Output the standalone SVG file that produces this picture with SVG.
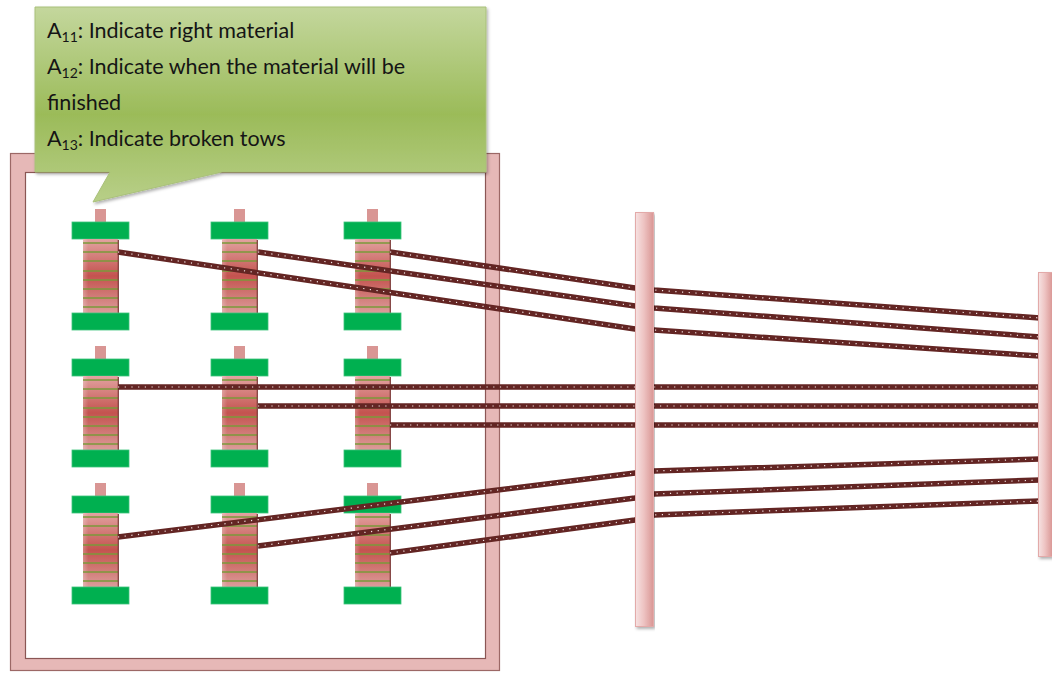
<svg xmlns="http://www.w3.org/2000/svg" xmlns:xlink="http://www.w3.org/1999/xlink" width="1052" height="673" viewBox="0 0 1052 673">
  <style>
    .frame-outer { fill: #e6b8b7; stroke: #9c6866; stroke-width: 1.2; }
    .frame-inner { fill: #ffffff; stroke: #8a5654; stroke-width: 1.2; }
    .cap { fill: #00b050; stroke: #3cc47a; stroke-width: 0.8; }
    .knob { fill: #d99694; }
    .wind { stroke: #7a9a3a; stroke-width: 1.3; }
    .tow { fill: none; stroke: #632523; stroke-width: 5.5; stroke-linejoin: round; }
    .tow-dots { fill: none; stroke: #f3e4e4; stroke-width: 1.2; stroke-dasharray: 1.2 5.5; }
    .bar { fill: url(#barGrad); stroke: #e3aaa9; stroke-width: 1; }
    .label { font-family: Lato, "Liberation Sans", sans-serif; font-size: 21.5px; fill: #151515; }
    .sub { font-size: 14px; }
  </style>
  <defs>
    <linearGradient id="bodyGrad" x1="0" y1="0" x2="0" y2="1">
      <stop offset="0" stop-color="#e2a3a1"/>
      <stop offset="0.5" stop-color="#c4534f"/>
      <stop offset="1" stop-color="#dc9c9a"/>
    </linearGradient>
    <linearGradient id="bodyShine" x1="0" y1="0" x2="1" y2="0">
      <stop offset="0" stop-color="#ffffff" stop-opacity="0.25"/>
      <stop offset="0.15" stop-color="#ffffff" stop-opacity="0"/>
      <stop offset="1" stop-color="#ffffff" stop-opacity="0"/>
    </linearGradient>
    <linearGradient id="barGrad" x1="0" y1="0" x2="1" y2="0">
      <stop offset="0" stop-color="#f6e2e2"/>
      <stop offset="0.45" stop-color="#eec4c3"/>
      <stop offset="1" stop-color="#d99694"/>
    </linearGradient>
    <linearGradient id="calloutGrad" x1="0" y1="0" x2="0" y2="1">
      <stop offset="0" stop-color="#c4d79d"/>
      <stop offset="0.55" stop-color="#9bbb59"/>
      <stop offset="1" stop-color="#b8cf88"/>
    </linearGradient>
    <filter id="softShadow" x="-5%" y="-5%" width="110%" height="115%">
      <feDropShadow dx="1.5" dy="2" stdDeviation="1.5" flood-color="#000" flood-opacity="0.3"/>
    </filter>
    <!-- one bobbin: knob, top flange, wound body, bottom flange -->
    <g id="spool">
      <rect class="knob" x="23" y="0" width="11" height="13"/>
      <rect class="cap" x="0" y="13" width="57" height="17"/>
      <rect x="11" y="30" width="35" height="74" fill="url(#bodyGrad)"/>
      <rect x="11" y="30" width="35" height="74" fill="url(#bodyShine)"/>
      <g class="wind">
        <line x1="11" y1="34" x2="46" y2="34"/>
        <line x1="11" y1="43" x2="46" y2="43"/>
        <line x1="11" y1="52" x2="46" y2="52"/>
        <line x1="11" y1="62" x2="46" y2="62"/>
        <line x1="11" y1="71" x2="46" y2="71"/>
        <line x1="11" y1="80" x2="46" y2="80"/>
        <line x1="11" y1="89" x2="46" y2="89"/>
        <line x1="11" y1="98" x2="46" y2="98"/>
      </g>
      <line x1="46.3" y1="31" x2="46.3" y2="104" stroke="#7a3533" stroke-width="1.2"/>
      <rect class="cap" x="0" y="104" width="57" height="17"/>
    </g>
  </defs>

  <!-- creel frame -->
  <g id="creel">
    <rect class="frame-outer" x="10.5" y="153.5" width="489" height="517"/>
    <rect class="frame-inner" x="25.5" y="172.5" width="460" height="486"/>
  </g>

  <!-- bobbins, 3 x 3 -->
  <g id="spool-r1c1"><use xlink:href="#spool" x="72" y="209"/></g>
  <g id="spool-r1c2"><use xlink:href="#spool" x="211" y="209"/></g>
  <g id="spool-r1c3"><use xlink:href="#spool" x="344" y="209"/></g>
  <g id="spool-r2c1"><use xlink:href="#spool" x="72" y="346"/></g>
  <g id="spool-r2c2"><use xlink:href="#spool" x="211" y="346"/></g>
  <g id="spool-r2c3"><use xlink:href="#spool" x="344" y="346"/></g>
  <g id="spool-r3c1"><use xlink:href="#spool" x="72" y="483"/></g>
  <g id="spool-r3c2"><use xlink:href="#spool" x="211" y="483"/></g>
  <g id="spool-r3c3"><use xlink:href="#spool" x="344" y="483"/></g>

  <!-- tows from bobbins through the guide bar to the collector -->
  <g id="connectors">
    <g class="tow">
      <path d="M118,252 L635,329 L654,330 L1040,356"/>
      <path d="M258,252 L635,306 L654,308 L1040,337"/>
      <path d="M390,252 L635,288 L654,290 L1040,318"/>
      <path d="M118,387 L1040,387"/>
      <path d="M258,406 L1040,406"/>
      <path d="M390,425 L1040,425"/>
      <path d="M118,537 L635,473 L654,471 L1040,459"/>
      <path d="M258,546 L635,498 L654,494 L1040,480"/>
      <path d="M390,553 L635,520 L654,515 L1040,501"/>
    </g>
    <g class="tow-dots">
      <path d="M118,252 L635,329 L654,330 L1040,356"/>
      <path d="M258,252 L635,306 L654,308 L1040,337"/>
      <path d="M390,252 L635,288 L654,290 L1040,318"/>
      <path d="M118,387 L1040,387"/>
      <path d="M258,406 L1040,406"/>
      <path d="M390,425 L1040,425"/>
      <path d="M118,537 L635,473 L654,471 L1040,459"/>
      <path d="M258,546 L635,498 L654,494 L1040,480"/>
      <path d="M390,553 L635,520 L654,515 L1040,501"/>
    </g>
  </g>

  <!-- guide bar and collector bar -->
  <g id="guide-bar">
    <rect class="bar" x="635.5" y="212.5" width="18" height="414" filter="url(#softShadow)"/>
  </g>
  <g id="collector-bar">
    <rect class="bar" x="1038.5" y="272.5" width="14" height="284" filter="url(#softShadow)"/>
  </g>

  <!-- callout -->
  <g id="callout">
    <path d="M35,7 H486 V172 H222 L93,202 L110,172 H35 Z" fill="url(#calloutGrad)" stroke="#a9c07a" stroke-width="1" filter="url(#softShadow)"/>
    <text class="label" x="47" y="38">A<tspan class="sub" dy="4">11</tspan><tspan dy="-4">: Indicate right material</tspan></text>
    <text class="label" x="47" y="74">A<tspan class="sub" dy="4">12</tspan><tspan dy="-4">: Indicate when the material will be</tspan></text>
    <text class="label" x="47" y="110">finished</text>
    <text class="label" x="47" y="146">A<tspan class="sub" dy="4">13</tspan><tspan dy="-4">: Indicate broken tows</tspan></text>
  </g>
</svg>
